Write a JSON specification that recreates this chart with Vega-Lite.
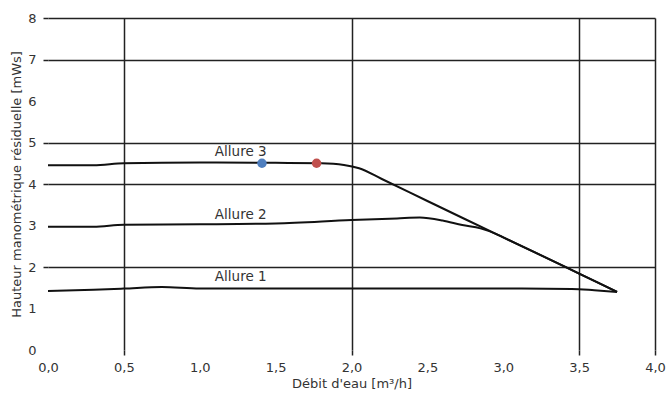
{
  "$schema": "https://vega.github.io/schema/vega-lite/v6.json",
  "width": 607,
  "height": 332,
  "autosize": {"type": "none"},
  "padding": {"left": 48, "top": 18, "right": 13, "bottom": 48},
  "background": "white",
  "config": {
    "view": {"stroke": null},
    "font": "DejaVu Sans",
    "axis": {"labelFont": "DejaVu Sans", "titleFont": "DejaVu Sans", "labelColor": "#333", "titleColor": "#333", "labelFontSize": 13, "titleFontSize": 13, "titleFontWeight": "normal"}
  },
  "datasets": {
    "curves": [
      {"s": "Allure 3", "x": 0.0, "y": 4.45},
      {"s": "Allure 3", "x": 0.3, "y": 4.45},
      {"s": "Allure 3", "x": 0.5, "y": 4.5},
      {"s": "Allure 3", "x": 1.0, "y": 4.52},
      {"s": "Allure 3", "x": 1.5, "y": 4.51},
      {"s": "Allure 3", "x": 1.8, "y": 4.5},
      {"s": "Allure 3", "x": 1.95, "y": 4.46},
      {"s": "Allure 3", "x": 2.05, "y": 4.38},
      {"s": "Allure 3", "x": 2.2, "y": 4.12},
      {"s": "Allure 3", "x": 2.5, "y": 3.59},
      {"s": "Allure 3", "x": 2.75, "y": 3.15},
      {"s": "Allure 3", "x": 3.0, "y": 2.715},
      {"s": "Allure 3", "x": 3.25, "y": 2.28},
      {"s": "Allure 3", "x": 3.5, "y": 1.84},
      {"s": "Allure 3", "x": 3.75, "y": 1.4},
      {"s": "Allure 2", "x": 0.0, "y": 2.97},
      {"s": "Allure 2", "x": 0.3, "y": 2.97},
      {"s": "Allure 2", "x": 0.5, "y": 3.02},
      {"s": "Allure 2", "x": 1.0, "y": 3.03},
      {"s": "Allure 2", "x": 1.5, "y": 3.05},
      {"s": "Allure 2", "x": 2.0, "y": 3.13},
      {"s": "Allure 2", "x": 2.3, "y": 3.17},
      {"s": "Allure 2", "x": 2.45, "y": 3.19},
      {"s": "Allure 2", "x": 2.6, "y": 3.12},
      {"s": "Allure 2", "x": 2.73, "y": 3.01},
      {"s": "Allure 2", "x": 2.85, "y": 2.93},
      {"s": "Allure 2", "x": 2.95, "y": 2.8},
      {"s": "Allure 2", "x": 3.0, "y": 2.715},
      {"s": "Allure 2", "x": 3.25, "y": 2.28},
      {"s": "Allure 2", "x": 3.5, "y": 1.84},
      {"s": "Allure 2", "x": 3.75, "y": 1.4},
      {"s": "Allure 1", "x": 0.0, "y": 1.42},
      {"s": "Allure 1", "x": 0.3, "y": 1.45},
      {"s": "Allure 1", "x": 0.5, "y": 1.48},
      {"s": "Allure 1", "x": 0.75, "y": 1.52},
      {"s": "Allure 1", "x": 1.0, "y": 1.48},
      {"s": "Allure 1", "x": 2.0, "y": 1.48},
      {"s": "Allure 1", "x": 3.0, "y": 1.48},
      {"s": "Allure 1", "x": 3.45, "y": 1.47},
      {"s": "Allure 1", "x": 3.6, "y": 1.44},
      {"s": "Allure 1", "x": 3.75, "y": 1.4}
    ],
    "pts": [
      {"x": 1.41, "y": 4.5, "c": "blue"},
      {"x": 1.77, "y": 4.5, "c": "red"}
    ],
    "labels": [
      {"x": 1.27, "y": 4.77, "t": "Allure 3"},
      {"x": 1.27, "y": 3.25, "t": "Allure 2"},
      {"x": 1.27, "y": 1.76, "t": "Allure 1"}
    ]
  },
  "layer": [
    {
      "data": {"name": "curves"},
      "mark": {"type": "line", "color": "#111", "strokeWidth": 2, "interpolate": "monotone"},
      "encoding": {
        "x": {
          "field": "x", "type": "quantitative",
          "scale": {"domain": [0, 4], "nice": false},
          "axis": {
            "values": [0, 0.5, 1, 1.5, 2, 2.5, 3, 3.5, 4],
            "labelExpr": "replace(format(datum.value, '.1f'), '.', ',')",
            "domain": false,
            "grid": true,
            "gridColor": "#222",
            "gridWidth": 1.5,
            "gridOpacity": {"condition": {"test": "indexof([0.5, 2, 3.5, 4], datum.value) >= 0", "value": 1}, "value": 0},
            "ticks": true,
            "tickSize": 5,
            "tickColor": "#222",
            "tickWidth": 1.5,
            "tickOpacity": {"condition": {"test": "indexof([0.5, 2, 3.5, 4], datum.value) >= 0", "value": 1}, "value": 0},
            "labelPadding": 6,
            "labelFlush": false,
            "title": "Débit d'eau [m³/h]",
            "titlePadding": 3
          }
        },
        "y": {
          "field": "y", "type": "quantitative",
          "scale": {"domain": [0, 8], "nice": false},
          "axis": {
            "values": [0, 1, 2, 3, 4, 5, 6, 7, 8],
            "domain": false,
            "grid": true,
            "gridColor": "#222",
            "gridWidth": 1.5,
            "gridOpacity": {"condition": {"test": "indexof([2, 4, 5, 7, 8], datum.value) >= 0", "value": 1}, "value": 0},
            "ticks": true,
            "tickSize": 5,
            "tickColor": "#222",
            "tickWidth": 1.5,
            "tickOpacity": {"condition": {"test": "indexof([2, 4, 5, 7, 8], datum.value) >= 0", "value": 1}, "value": 0},
            "labelPadding": 7,
            "labelFlush": false,
            "title": "Hauteur manométrique résiduelle [mWs]",
            "titlePadding": 4
          }
        },
        "detail": {"field": "s", "type": "nominal"}
      }
    },
    {
      "data": {"name": "pts"},
      "mark": {"type": "circle", "size": 90, "opacity": 1},
      "encoding": {
        "x": {"field": "x", "type": "quantitative"},
        "y": {"field": "y", "type": "quantitative"},
        "color": {"field": "c", "type": "nominal", "scale": {"domain": ["blue", "red"], "range": ["#4f7fbf", "#c0504d"]}, "legend": null}
      }
    },
    {
      "data": {"name": "labels"},
      "mark": {"type": "text", "fontSize": 13.5, "color": "#333", "font": "DejaVu Sans"},
      "encoding": {
        "x": {"field": "x", "type": "quantitative"},
        "y": {"field": "y", "type": "quantitative"},
        "text": {"field": "t"}
      }
    }
  ]
}
